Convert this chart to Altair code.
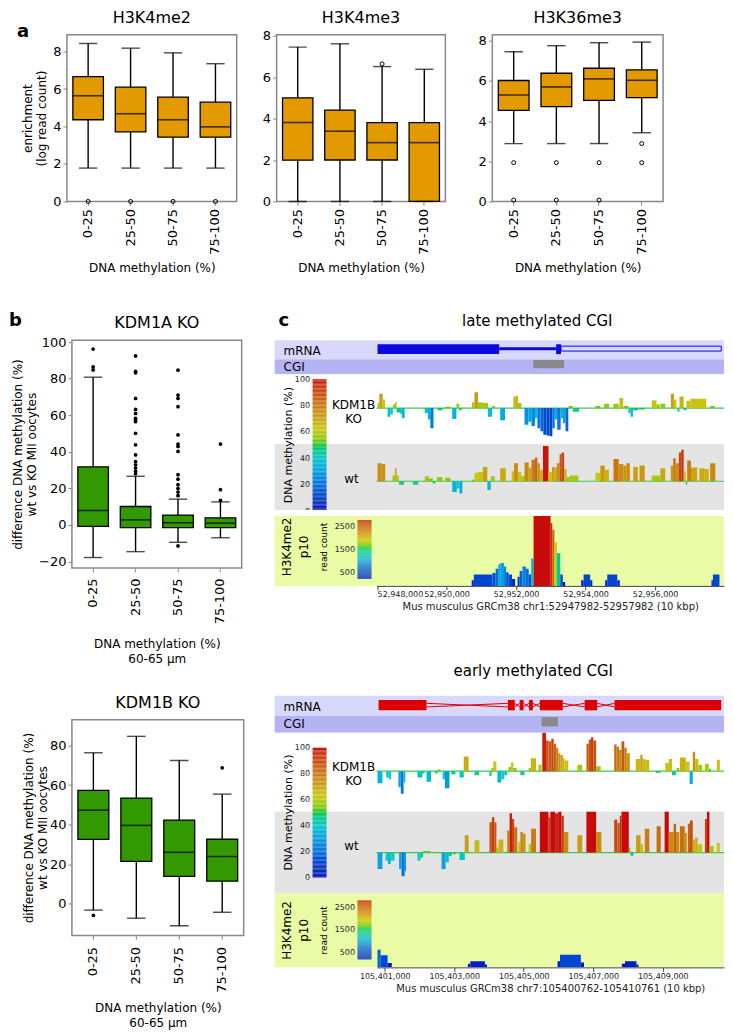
import altair as alt
import pandas as pd

FONT = "DejaVu Sans"
ORANGE = "#E29A00"
GREEN = "#339900"
FRAME = "#888888"
LAV1 = "#d8d8fa"
LAV2 = "#b4b4f4"
GREY_BG = "#e4e4e4"
YEL_BG = "#eafba6"

BINS = ["0-25", "25-50", "50-75", "75-100"]

# ---------------- panel a (lo whisker, q1, median, q3, hi whisker) ----------------
me2_lo = [1.78, 1.78, 1.78, 1.78]
me2_q1 = [4.36, 3.71, 3.43, 3.43]
me2_med = [5.64, 4.68, 4.36, 3.98]
me2_q3 = [6.66, 6.10, 5.57, 5.30]
me2_hi = [8.43, 8.18, 7.93, 7.35]
me2_out = [("0-25", 0.0), ("25-50", 0.0), ("50-75", 0.0), ("75-100", 0.0)]

me3_lo = [0.0, 0.0, 0.0, 0.0]
me3_q1 = [1.99, 2.00, 2.00, 0.0]
me3_med = [3.81, 3.39, 2.84, 2.84]
me3_q3 = [5.00, 4.41, 3.80, 3.80]
me3_hi = [7.45, 7.61, 6.51, 6.38]
me3_out = [("50-75", 6.64)]

k36_lo = [2.88, 2.88, 2.88, 3.42]
k36_q1 = [4.53, 4.72, 5.03, 5.17]
k36_med = [5.30, 5.70, 6.10, 6.03]
k36_q3 = [6.02, 6.38, 6.63, 6.55]
k36_hi = [7.45, 7.75, 7.90, 7.93]
k36_out = [("0-25", 1.93), ("0-25", 0.07), ("25-50", 1.93), ("25-50", 0.07),
           ("50-75", 1.93), ("50-75", 0.07), ("75-100", 2.88), ("75-100", 1.93)]

# ---------------- panel b ----------------
kdm1a_lo = [-17.8, -14.6, -9.5, -7.0]
kdm1a_q1 = [-0.8, -1.5, -1.5, -1.5]
kdm1a_med = [7.9, 2.8, 1.2, 1.0]
kdm1a_q3 = [31.8, 10.1, 5.4, 3.9]
kdm1a_hi = [80.8, 26.6, 14.1, 12.6]
kdm1a_out = [("0-25", 96.2), ("0-25", 86.4), ("0-25", 84.8),
             ("25-50", 92.4), ("25-50", 84.0), ("25-50", 83.2), ("25-50", 69.2), ("25-50", 63.2),
             ("25-50", 61.0), ("25-50", 58.3), ("25-50", 57.4), ("25-50", 56.5), ("25-50", 50.1),
             ("25-50", 43.8), ("25-50", 38.3), ("25-50", 34.7), ("25-50", 32.9), ("25-50", 31.1),
             ("25-50", 29.3), ("25-50", 28.0),
             ("50-75", 84.6), ("50-75", 71.0), ("50-75", 69.2), ("50-75", 64.7), ("50-75", 49.2),
             ("50-75", 44.2), ("50-75", 42.9), ("50-75", 40.2), ("50-75", 27.5), ("50-75", 25.0),
             ("50-75", 22.0), ("50-75", 20.0), ("50-75", 18.0), ("50-75", 16.0), ("50-75", -11.5),
             ("75-100", 44.2), ("75-100", 19.3), ("75-100", 13.5)]

kdm1b_lo = [-3.2, -7.3, -11.1, -4.3]
kdm1b_q1 = [32.5, 21.4, 13.8, 11.4]
kdm1b_med = [47.3, 39.6, 26.0, 23.9]
kdm1b_q3 = [57.3, 53.4, 42.3, 32.6]
kdm1b_hi = [76.3, 84.6, 72.4, 55.4]
kdm1b_out = [("0-25", -5.9), ("75-100", 68.7)]

# ---------------- panel c (positions in kb from region start) ----------------
LATE = (52947982, 52957982)
EARLY = (105400762, 105410761)
late_ticks = [52948000, 52950000, 52952000, 52954000, 52956000]
early_ticks = [105401000, 105403000, 105405000, 105407000, 105409000]

late_exons = [(0.03, 3.53), (5.17, 5.31)]
late_thin = [(3.53, 5.17)]
late_utr = [(5.31, 9.92)]
late_cgi = [(4.51, 5.40)]
early_exons = [(0.06, 1.44), (3.78, 3.98), (4.12, 4.23), (4.39, 4.50), (4.70, 5.36),
               (5.99, 6.35), (6.85, 9.92)]
early_cgi = [(4.75, 5.22)]

# (start kb, end kb, methylation %)
late_ko = [(0.03, 0.08, 57), (0.08, 0.18, 70), (0.18, 0.25, 62), (0.32, 0.40, 38), (0.40, 0.47, 41),
           (0.47, 0.53, 55), (0.53, 0.58, 58), (0.58, 0.68, 44), (0.68, 0.73, 42), (0.73, 0.81, 36),
           (1.39, 1.48, 43), (1.48, 1.55, 34), (1.55, 1.64, 22), (1.76, 1.90, 47), (1.97, 2.13, 52),
           (2.18, 2.30, 35), (2.30, 2.38, 56), (2.38, 2.45, 47), (2.75, 2.82, 58), (2.82, 2.92, 72),
           (2.92, 3.06, 58), (3.06, 3.21, 57), (3.21, 3.33, 38), (3.33, 3.41, 53), (3.56, 3.70, 33),
           (3.94, 4.01, 66), (4.01, 4.07, 67), (4.07, 4.17, 57), (4.26, 4.37, 27), (4.37, 4.46, 31),
           (4.46, 4.56, 25), (4.56, 4.63, 36), (4.63, 4.72, 22), (4.72, 4.80, 18), (4.80, 4.89, 13),
           (4.89, 4.98, 12), (4.98, 5.06, 11), (5.06, 5.13, 22), (5.13, 5.20, 34), (5.20, 5.30, 20),
           (5.30, 5.37, 36), (5.37, 5.44, 29), (5.44, 5.52, 18), (5.53, 5.65, 53), (5.65, 5.83, 45),
           (6.30, 6.44, 53), (6.55, 6.69, 56), (6.82, 6.97, 56), (6.99, 7.10, 64), (7.11, 7.25, 53),
           (7.25, 7.31, 43), (7.31, 7.38, 38), (7.38, 7.53, 47), (7.55, 7.71, 48), (7.92, 8.06, 61),
           (8.06, 8.15, 55), (8.17, 8.31, 56), (8.47, 8.56, 70), (8.56, 8.63, 62), (8.66, 8.72, 45),
           (8.72, 8.84, 66), (8.84, 8.92, 47), (8.92, 9.03, 60), (9.03, 9.49, 63), (9.60, 9.73, 53)]
late_wt = [(0.03, 0.14, 75), (0.14, 0.25, 74), (0.46, 0.53, 58), (0.53, 0.58, 68), (0.58, 0.64, 58),
           (0.65, 0.79, 45), (1.05, 1.20, 45), (1.39, 1.51, 57), (1.51, 1.62, 54), (1.62, 1.69, 47),
           (1.74, 1.90, 56), (1.97, 2.13, 55), (2.18, 2.31, 35), (2.31, 2.39, 40), (2.39, 2.47, 33),
           (2.75, 2.82, 52), (2.82, 2.92, 62), (2.92, 3.06, 63), (3.06, 3.19, 70), (3.19, 3.29, 38),
           (3.29, 3.40, 57), (3.56, 3.72, 68), (3.89, 3.96, 64), (3.96, 4.07, 75), (4.07, 4.17, 63),
           (4.17, 4.26, 57), (4.26, 4.38, 76), (4.38, 4.46, 69), (4.46, 4.56, 80), (4.56, 4.63, 83),
           (4.63, 4.70, 75), (4.70, 4.79, 66), (4.79, 4.95, 99), (4.95, 5.05, 63), (5.05, 5.12, 70),
           (5.12, 5.19, 69), (5.19, 5.27, 75), (5.27, 5.33, 88), (5.33, 5.40, 90), (5.40, 5.47, 67),
           (5.47, 5.56, 56), (5.56, 5.81, 58), (6.30, 6.44, 62), (6.44, 6.57, 72), (6.57, 6.69, 66),
           (6.82, 6.97, 81), (6.97, 7.10, 74), (7.10, 7.19, 72), (7.19, 7.29, 75), (7.39, 7.52, 70),
           (7.57, 7.72, 72), (7.92, 8.17, 58), (8.17, 8.31, 68), (8.47, 8.54, 72), (8.54, 8.61, 82),
           (8.61, 8.70, 75), (8.70, 8.77, 90), (8.77, 8.84, 94), (8.84, 8.90, 64), (8.90, 8.94, 45),
           (8.94, 9.05, 79), (9.05, 9.23, 69), (9.29, 9.44, 68), (9.44, 9.56, 67), (9.60, 9.75, 75)]
early_ko = [(0.03, 0.17, 35), (0.28, 0.35, 42), (0.35, 0.42, 40), (0.63, 0.70, 30), (0.70, 0.78, 22),
            (0.78, 0.83, 36), (1.18, 1.32, 42), (1.32, 1.38, 47), (1.44, 1.57, 37), (1.69, 1.76, 47),
            (1.76, 1.84, 52), (1.90, 1.97, 40), (1.97, 2.10, 29), (2.15, 2.27, 46), (2.39, 2.51, 42),
            (2.51, 2.65, 68), (2.82, 2.95, 45), (3.25, 3.31, 44), (3.31, 3.36, 54), (3.36, 3.45, 62),
            (3.48, 3.59, 36), (3.59, 3.68, 40), (3.68, 3.76, 45), (3.80, 3.87, 55), (3.87, 3.94, 61),
            (3.94, 4.03, 54), (4.14, 4.26, 45), (4.38, 4.44, 54), (4.44, 4.59, 66), (4.66, 4.75, 58),
            (4.77, 4.88, 98), (4.88, 4.95, 88), (4.95, 5.03, 87), (5.03, 5.10, 90), (5.10, 5.17, 84),
            (5.17, 5.23, 79), (5.23, 5.29, 72), (5.29, 5.36, 70), (5.36, 5.41, 66), (5.41, 5.52, 63),
            (5.78, 5.92, 58), (6.04, 6.11, 84), (6.11, 6.17, 89), (6.17, 6.24, 92), (6.24, 6.32, 88),
            (6.32, 6.45, 56), (6.84, 6.91, 83), (6.91, 6.98, 80), (6.98, 7.05, 76), (7.05, 7.13, 87),
            (7.13, 7.20, 79), (7.20, 7.29, 72), (7.46, 7.59, 65), (7.59, 7.66, 70), (7.66, 7.73, 65),
            (7.73, 7.85, 64), (8.04, 8.18, 48), (8.31, 8.41, 60), (8.41, 8.50, 65), (8.50, 8.62, 45),
            (8.64, 8.71, 54), (8.73, 8.90, 67), (8.90, 9.01, 62), (9.01, 9.10, 34), (9.10, 9.17, 74),
            (9.17, 9.26, 65), (9.26, 9.37, 58), (9.45, 9.56, 59), (9.56, 9.63, 53), (9.79, 9.88, 64)]
early_wt = [(0.03, 0.17, 30), (0.26, 0.33, 40), (0.33, 0.41, 36), (0.41, 0.52, 40), (0.65, 0.72, 30),
            (0.72, 0.81, 21), (0.81, 0.85, 27), (1.18, 1.27, 40), (1.27, 1.34, 44), (1.34, 1.44, 52),
            (1.44, 1.55, 52), (1.87, 1.99, 30), (1.99, 2.08, 38), (2.08, 2.17, 46), (2.21, 2.28, 48),
            (2.39, 2.54, 41), (2.54, 2.65, 71), (2.82, 2.96, 65), (3.25, 3.32, 87), (3.32, 3.39, 93),
            (3.39, 3.45, 87), (3.45, 3.51, 56), (3.51, 3.65, 66), (3.76, 3.83, 77), (3.83, 3.90, 98),
            (3.90, 3.96, 91), (3.96, 4.05, 81), (4.08, 4.14, 63), (4.14, 4.22, 75), (4.22, 4.29, 73),
            (4.38, 4.45, 60), (4.45, 4.59, 79), (4.70, 4.95, 100), (4.95, 5.00, 93), (5.00, 5.14, 100),
            (5.14, 5.23, 98), (5.23, 5.32, 100), (5.32, 5.39, 95), (5.39, 5.52, 75), (5.78, 5.92, 71),
            (6.04, 6.32, 100), (6.32, 6.47, 75), (6.84, 6.93, 90), (6.93, 7.00, 86), (7.00, 7.05, 95),
            (7.05, 7.26, 100), (7.26, 7.31, 56), (7.31, 7.39, 46), (7.47, 7.60, 71), (7.60, 7.67, 60),
            (7.72, 7.85, 79), (8.06, 8.18, 82), (8.29, 8.41, 100), (8.41, 8.55, 75), (8.55, 8.62, 85),
            (8.62, 8.71, 75), (8.73, 8.87, 82), (8.87, 8.93, 74), (8.96, 9.02, 85), (9.02, 9.10, 89),
            (9.10, 9.17, 66), (9.17, 9.24, 68), (9.24, 9.37, 60), (9.45, 9.51, 91), (9.51, 9.58, 100),
            (9.58, 9.70, 58), (9.79, 9.88, 62)]

# (start kb, end kb, H3K4me2 read count)
late_reads = [(2.74, 2.80, 250), (2.80, 3.34, 500), (3.34, 3.43, 560), (3.43, 3.51, 750), (3.51, 3.57, 950),
              (3.57, 3.67, 1000), (3.67, 3.73, 850), (3.73, 3.80, 600), (3.80, 3.90, 500), (3.90, 3.99, 300),
              (4.06, 4.12, 400), (4.12, 4.20, 650), (4.20, 4.30, 850), (4.30, 4.38, 750), (4.38, 4.45, 500),
              (4.45, 4.52, 1200), (4.52, 5.01, 3200), (5.01, 5.06, 2750), (5.06, 5.12, 2450), (5.12, 5.19, 1900),
              (5.19, 5.29, 1420), (5.29, 5.36, 500), (5.36, 5.43, 170), (5.89, 5.96, 250), (5.96, 6.15, 500),
              (6.15, 6.21, 250), (6.58, 6.64, 250), (6.64, 6.93, 500), (6.93, 7.00, 250), (9.64, 9.68, 250),
              (9.68, 9.87, 500)]
early_reads = [(0.03, 0.12, 720), (0.12, 0.32, 490), (0.32, 0.44, 180), (2.63, 2.70, 150), (2.70, 3.12, 245),
               (3.12, 3.18, 120), (5.21, 5.28, 250), (5.28, 5.88, 515), (5.88, 5.97, 200), (7.06, 7.15, 150),
               (7.15, 7.48, 245), (7.48, 7.54, 120)]

METH_DOM = [0, 10, 20, 30, 40, 45, 50, 55, 62, 70, 80, 90, 100]
METH_RNG = ["#0a14b4", "#0a3cc8", "#1470dc", "#14a0e0", "#14c8c8", "#14c890", "#28c828",
            "#8cc814", "#c8c814", "#c8a014", "#c87814", "#c84614", "#c80a0a"]
READ_DOM = [200, 700, 1100, 1400, 1600, 1900, 2300, 2800]
READ_RNG = ["#0a14c0", "#1460dc", "#14b4e0", "#14c8a0", "#28c828", "#c8c814", "#d07814", "#c80a0a"]
METH_TICKS = [0, 20, 40, 60, 80, 100]
READ_TICKS = [500, 1500, 2500]

W_C = 450     # panel c width
LAB = 102     # label column inside panel c


def txt(t, x, y, size=12, angle=0, align="center", bold=False, baseline="middle"):
    return alt.Chart(pd.DataFrame({"t": [t]})).mark_text(
        fontSize=size, angle=angle, align=align, baseline=baseline, color="black",
        fontWeight="bold" if bold else "normal", font=FONT
    ).encode(x=alt.value(x), y=alt.value(y), text="t:N")


def box_chart(lo, q1, med, q3, hi, outl, fill, ydom, yvals, w, h, title, ytitle, xtitle,
              filled, letter=None, lxy=(0, 0), ty=-12, xpad=5, ytpad=4, lpad=3):
    df = pd.DataFrame({"bin": BINS, "lo": lo, "q1": q1, "med": med, "q3": q3, "hi": hi})
    od = pd.DataFrame({"bin": [b for b, _ in outl], "v": [v for _, v in outl]})
    xaxis = alt.Axis(title=xtitle, labelAngle=270, labelAlign="right", labelBaseline="middle",
                     labelFontSize=13, titleFontSize=12, titleFontWeight="normal", domain=False,
                     tickColor=FRAME, tickSize=4, labelPadding=lpad, titlePadding=xpad,
                     labelColor="black", titleColor="black", titleLineHeight=15)
    x = alt.X("bin:N", sort=BINS, scale=alt.Scale(paddingInner=0, paddingOuter=0), axis=xaxis)
    yaxis = alt.Axis(title=ytitle, values=yvals, domain=False, grid=False, tickColor=FRAME,
                     tickSize=4, labelFontSize=13, titleFontSize=12, titleFontWeight="normal",
                     labelColor="black", titleColor="black", labelPadding=2, titlePadding=ytpad,
                     titleLineHeight=14)
    ysc = alt.Scale(domain=ydom, nice=False, zero=False)

    def Y(f):
        return alt.Y(f, scale=ysc, axis=yaxis)

    bw = 0.72 * w / 4
    base = alt.Chart(df)
    layers = [
        base.mark_rule(color="black", strokeWidth=1.4).encode(x=x, y=Y("lo:Q"), y2="hi:Q"),
        base.mark_bar(width=alt.RelativeBandSize(0.72), fill=fill, stroke="black",
                      strokeWidth=1.3).encode(x=x, y=Y("q1:Q"), y2="q3:Q"),
        base.mark_tick(color="black", thickness=1.6, size=bw).encode(x=x, y=Y("med:Q")),
        base.mark_tick(color="black", thickness=1.4, size=bw * 0.6).encode(x=x, y=Y("lo:Q")),
        base.mark_tick(color="black", thickness=1.4, size=bw * 0.6).encode(x=x, y=Y("hi:Q")),
        alt.Chart(od).mark_point(shape="circle", size=14 if filled else 16, filled=filled,
                                 color="black", strokeWidth=1, opacity=1).encode(x=x, y=Y("v:Q")),
        txt(title, w / 2, ty, size=16, baseline="alphabetic"),
    ]
    if letter:
        layers.append(txt(letter, lxy[0], lxy[1], size=18, align="left", bold=True,
                          baseline="alphabetic"))
    return alt.layer(*layers).properties(
        width=w, height=h, view=alt.ViewBackground(stroke=FRAME, strokeWidth=1.5, fill="white"))


def xsc(region):
    return alt.Scale(domain=list(region), range=[LAB, W_C], nice=False, zero=False)


def kb_frame(region, rows, cols):
    df = pd.DataFrame(rows, columns=cols)
    df["x"] = region[0] + df["s"] * 1000
    df["x2"] = region[0] + df["e"] * 1000
    return df


def colorbar(lo, hi, step, dom, rng, ticks, xpos, top, length, fmt):
    """Colour key drawn as a stack of thin rects with its own y axis (labels on the left)."""
    vals = list(range(lo, hi, step))
    cb = pd.DataFrame({"cv": vals, "cv2": [v + step for v in vals]})
    axis = alt.Axis(values=ticks, orient="left", offset={"expr": str(-xpos)}, domain=False,
                    ticks=False, grid=False, labelPadding=3, labelFontSize=8, labelColor="#222",
                    title=None, labelOverlap=False, format=fmt)
    return alt.Chart(cb).mark_rect().encode(
        x=alt.value(xpos), x2=alt.value(xpos + 14),
        y=alt.Y("cv:Q", scale=alt.Scale(domain=[lo, hi], range=[top + length, top], nice=False,
                                        zero=False), axis=axis),
        y2="cv2:Q",
        color=alt.Color("cv:Q", scale=alt.Scale(domain=dom, range=rng, clamp=True), legend=None))


def gene_chart(region, exons, h, color, title, tx, ty, letter, thin=(), utr=(), cross=False):
    X = lambda f: alt.X(f, scale=xsc(region), axis=None)
    Y = lambda f: alt.Y(f, scale=alt.Scale(domain=[0, 1]), axis=None)
    layers = []
    if cross:
        rows = []
        for (a0, b0), (a1, b1) in zip(exons[:-1], exons[1:]):
            rows.append((b0, a1, 0.62, 0.44))
            rows.append((b0, a1, 0.44, 0.62))
        idf = kb_frame(region, rows, ["s", "e", "ya", "yb"])
        layers.append(alt.Chart(idf).mark_rule(color=color, strokeWidth=1).encode(
            x=X("x:Q"), x2="x2:Q", y=Y("ya:Q"), y2="yb:Q"))
    if thin:
        tdf = kb_frame(region, list(thin), ["s", "e"])
        tdf["y0"], tdf["y1"] = 0.47, 0.63
        layers.append(alt.Chart(tdf).mark_rect(color=color).encode(
            x=X("x:Q"), x2="x2:Q", y=Y("y0:Q"), y2="y1:Q"))
    if utr:
        udf = kb_frame(region, list(utr), ["s", "e"])
        udf["y0"], udf["y1"] = 0.43, 0.69
        layers.append(alt.Chart(udf).mark_rect(fillOpacity=0, stroke=color, strokeWidth=1).encode(
            x=X("x:Q"), x2="x2:Q", y=Y("y0:Q"), y2="y1:Q"))
    edf = kb_frame(region, list(exons), ["s", "e"])
    edf["y0"], edf["y1"] = 0.27, 0.79
    layers.append(alt.Chart(edf).mark_rect(color=color).encode(
        x=X("x:Q"), x2="x2:Q", y=Y("y0:Q"), y2="y1:Q"))
    layers.append(txt("mRNA", 9, h / 2 + 1, size=12, align="left"))
    layers.append(txt(title, tx, ty, size=15, baseline="alphabetic"))
    if letter:
        layers.append(txt(letter, 4, -14, size=18, align="left", bold=True, baseline="alphabetic"))
    return alt.layer(*layers).properties(
        width=W_C, height=h, view=alt.ViewBackground(fill=LAV1, strokeWidth=0))


def cgi_chart(region, cgi, h, y0, y1):
    cdf = kb_frame(region, list(cgi), ["s", "e"])
    cdf["y0"], cdf["y1"] = y0, y1
    r = alt.Chart(cdf).mark_rect(color="#8a8a8a").encode(
        x=alt.X("x:Q", scale=xsc(region), axis=None), x2="x2:Q",
        y=alt.Y("y0:Q", scale=alt.Scale(domain=[0, 1]), axis=None), y2="y1:Q")
    return alt.layer(r, txt("CGI", 9, h / 2, size=12, align="left")).properties(
        width=W_C, height=h, view=alt.ViewBackground(fill=LAV2, strokeWidth=0))


def meth_chart(region, rows, h, ydom, bg, texts, cbar=None):
    df = kb_frame(region, rows, ["s", "e", "v"])
    df["base"] = 50
    ysc = alt.Scale(domain=ydom, nice=False, zero=False)
    mid = pd.DataFrame({"a": [region[0]], "b": [region[1]], "m": [50]})
    data_layers = alt.layer(
        alt.Chart(mid).mark_rule(color="#3cc84a", strokeWidth=1.2).encode(
            x=alt.X("a:Q", scale=xsc(region), axis=None), x2="b:Q",
            y=alt.Y("m:Q", scale=ysc, axis=None)),
        alt.Chart(df).mark_rect(clip=True).encode(
            x=alt.X("x:Q", scale=xsc(region), axis=None), x2="x2:Q",
            y=alt.Y("v:Q", scale=ysc, axis=None), y2="base:Q",
            color=alt.Color("v:Q", scale=alt.Scale(domain=METH_DOM, range=METH_RNG, clamp=True),
                            legend=None)),
        *texts)
    if cbar is not None:
        ch = alt.layer(data_layers, cbar).resolve_scale(y="independent", color="independent")
    else:
        ch = data_layers
    return ch.properties(width=W_C, height=h, view=alt.ViewBackground(fill=bg, strokeWidth=0))


def reads_chart(region, rows, h, ymax, ticks, axis_title, cb_top, cb_len, lab_y):
    df = kb_frame(region, rows, ["s", "e", "r"])
    df["zero"] = 0
    axis = alt.Axis(values=ticks, labelExpr="format(datum.value, ',d')", labelFontSize=8,
                    labelColor="#222", tickColor="#444", domainColor="#444", tickSize=4,
                    labelPadding=1, title=axis_title, titleFontSize=10, titleFontWeight="normal",
                    titleColor="#222", titlePadding=3, grid=False)
    bars = alt.Chart(df).mark_rect(clip=True).encode(
        x=alt.X("x:Q", scale=xsc(region), axis=axis), x2="x2:Q",
        y=alt.Y("r:Q", scale=alt.Scale(domain=[0, ymax], nice=False), axis=None), y2="zero:Q",
        color=alt.Color("r:Q", scale=alt.Scale(domain=READ_DOM, range=READ_RNG, clamp=True),
                        legend=None))
    main = alt.layer(bars,
                     txt("H3K4me2", 12, lab_y, size=12, angle=270),
                     txt("p10", 29, lab_y, size=12, angle=270),
                     txt("read count", 49, lab_y, size=9, angle=270))
    cb = colorbar(200, 2800, 25, READ_DOM, READ_RNG, READ_TICKS, 83, cb_top, cb_len, "d")
    return alt.layer(main, cb).resolve_scale(y="independent", color="independent").properties(
        width=W_C, height=h, view=alt.ViewBackground(fill=YEL_BG, strokeWidth=0))


def blank(w, h):
    """Invisible placeholder used only to offset a row horizontally."""
    return alt.Chart(pd.DataFrame({"a": [0]})).mark_point(opacity=0, size=1).encode(
        x=alt.value(w / 2), y=alt.value(h / 2)).properties(
        width=w, height=h, view=alt.ViewBackground(strokeWidth=0))


def spacer(h):
    return alt.Chart(pd.DataFrame({"a": [0]})).mark_point(opacity=0, size=1).encode(
        x=alt.value(1), y=alt.value(1)).properties(
        width=W_C, height=h, view=alt.ViewBackground(fill="white", strokeWidth=0))


# ---------------- build panel a ----------------
A_H = 167
a1 = box_chart(me2_lo, me2_q1, me2_med, me2_q3, me2_hi, me2_out, ORANGE, [0, 8.9], [0, 2, 4, 6, 8],
               170, A_H, "H3K4me2", ["enrichment", "(log read count)"], "DNA methylation (%)",
               False, letter="a", lxy=(-50, 2), ty=-12, xpad=8)
a2 = box_chart(me3_lo, me3_q1, me3_med, me3_q3, me3_hi, me3_out, ORANGE, [0, 8.05], [0, 2, 4, 6, 8],
               169, A_H, "H3K4me3", None, "DNA methylation (%)", False, ty=-12, xpad=8)
a3 = box_chart(k36_lo, k36_q1, k36_med, k36_q3, k36_hi, k36_out, ORANGE, [0, 8.3], [0, 2, 4, 6, 8],
               171, A_H, "H3K36me3", None, "DNA methylation (%)", False, ty=-12, xpad=8)
rowA = alt.hconcat(blank(9, 1), alt.hconcat(a1, alt.hconcat(a2, a3, spacing=30), spacing=23),
                   spacing=0)

# ---------------- panel b ----------------
b_ytitle = ["difference DNA methylation (%)", "wt vs KO MII oocytes"]
b_xtitle = ["DNA methylation (%)", "60-65 \u00b5m"]
b1 = box_chart(kdm1a_lo, kdm1a_q1, kdm1a_med, kdm1a_q3, kdm1a_hi, kdm1a_out, GREEN, [-23.5, 101],
               [-20, 0, 20, 40, 60, 80, 100], 170, 228, "KDM1A KO", b_ytitle, b_xtitle, True,
               letter="b", lxy=(-63, -14), ty=-12, xpad=15, ytpad=0, lpad=6)
b2 = box_chart(kdm1b_lo, kdm1b_q1, kdm1b_med, kdm1b_q3, kdm1b_hi, kdm1b_out, GREEN, [-16, 93],
               [0, 20, 40, 60, 80], 172, 216, "KDM1B KO", b_ytitle, b_xtitle, True, ty=-12,
               xpad=10, ytpad=0, lpad=7)
colB = alt.vconcat(b1, b2, spacing=28)

# ---------------- panel c ----------------
def meth_pair_texts(ko_y, wt_y):
    ko = [txt("KDM1B", 79, ko_y, size=12), txt("KO", 79, ko_y + 14, size=12)]
    wt = [txt("wt", 77, wt_y, size=12), txt("DNA methylation (%)", 14, 1, size=11, angle=270)]
    return ko, wt

ko_t, wt_t = meth_pair_texts(31, 35)
c1 = alt.vconcat(
    gene_chart(LATE, late_exons, 19, "#0a0ae0", "late methylated CGI", 263, -14, "c",
               thin=late_thin, utr=late_utr),
    cgi_chart(LATE, late_cgi, 15, 0.40, 0.95),
    meth_chart(LATE, late_ko, 70, [0, 97], "white", ko_t),
    meth_chart(LATE, late_wt, 66, [10, 101.7], GREY_BG, wt_t,
               cbar=colorbar(0, 100, 1, METH_DOM, METH_RNG, METH_TICKS, 38, -65, 132, "d")),
    spacer(6),
    reads_chart(LATE, late_reads, 70, 3050, late_ticks,
                "Mus musculus GRCm38 chr1:52947982-52957982 (10 kbp)", 4, 59, 31),
    spacing=0, bounds="flush").resolve_scale(color="independent")

ko_t2, wt_t2 = meth_pair_texts(34, 34)
c2 = alt.vconcat(
    gene_chart(EARLY, early_exons, 20, "#dd0000", "early methylated CGI", 259, -20, "",
               cross=True),
    cgi_chart(EARLY, early_cgi, 17, 0.37, 0.92),
    meth_chart(EARLY, early_ko, 79, [0, 97.5], "white", ko_t2),
    meth_chart(EARLY, early_wt, 82, [0, 100], GREY_BG, wt_t2,
               cbar=colorbar(0, 100, 1, METH_DOM, METH_RNG, METH_TICKS, 38, -64, 130, "d")),
    reads_chart(EARLY, early_reads, 74, 3000, early_ticks,
                "Mus musculus GRCm38 chr7:105400762-105410761 (10 kbp)", 7, 59, 37),
    spacing=0, bounds="flush").resolve_scale(color="independent")

colC = alt.vconcat(c1, c2, spacing=52).resolve_scale(color="independent")
rowBC = alt.hconcat(blank(1, 1), alt.hconcat(colB, colC, spacing=30).resolve_scale(
    color="independent"), spacing=0).resolve_scale(color="independent")

chart = alt.vconcat(rowA, rowBC, spacing=37).resolve_scale(color="independent").properties(
    padding={"top": 0, "left": -1, "right": 0, "bottom": 0}
).configure(font=FONT).configure_view(strokeWidth=0)

chart.save("out.html", embed_options={"renderer": "svg", "actions": False})
